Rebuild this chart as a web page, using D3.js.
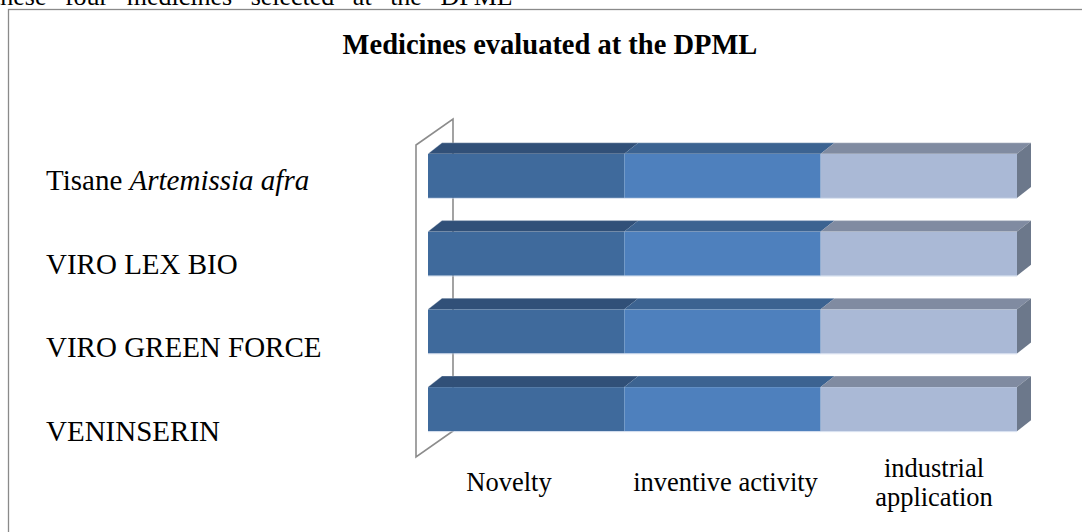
<!DOCTYPE html>
<html>
<head>
<meta charset="utf-8">
<script src="https://cdn.jsdelivr.net/npm/d3@7"></script>
<style>
  html, body { margin: 0; padding: 0; background: #ffffff; overflow: hidden; }
  svg { display: block; font-family: "Liberation Serif", "Times New Roman", serif; }
</style>
</head>
<body>
<script>
// ---- data ----
const categories = ["Tisane Artemissia afra", "VIRO LEX BIO", "VIRO GREEN FORCE", "VENINSERIN"];
const seriesNames = ["Novelty", "inventive activity", "industrial application"];
const novelty = [1, 1, 1, 1];
const inventiveActivity = [1, 1, 1, 1];
const industrialApplication = [1, 1, 1, 1];
const chartTitle = "Medicines evaluated at the DPML";
const precedingText = "these four medicines selected at the DPML";

// ---- styles ----
const frontColors = ["#3f6a9c", "#4e80bd", "#aab9d6"];
const topColors = ["#315078", "#3c6391", "#808ba1"];
const sideColor = "#6c788b";
const depthX = 14, depthY = -11;

const W = 1082, H = 532;
const svg = d3.select("body").append("svg").attr("width", W).attr("height", H);

// preceding paragraph, cut off at the top of the picture
svg.append("text")
  .attr("x", -7).attr("y", 5)
  .attr("font-size", 26)
  .attr("word-spacing", 12)
  .attr("fill", "#000")
  .text(precedingText);

// chart frame (extends beyond right/bottom edges)
svg.append("rect")
  .attr("x", 8.5).attr("y", 9.5)
  .attr("width", W + 20).attr("height", H + 20)
  .attr("fill", "#fff")
  .attr("stroke", "#8a8a8a").attr("stroke-width", 1.3);

// title
svg.append("text")
  .attr("x", 550).attr("y", 54)
  .attr("text-anchor", "middle")
  .attr("font-size", 28.5).attr("font-weight", "bold")
  .attr("fill", "#000")
  .text(chartTitle);

// ---- table & scales ----
const table = categories.map((c, i) => ({
  category: c,
  "Novelty": novelty[i],
  "inventive activity": inventiveActivity[i],
  "industrial application": industrialApplication[i]
}));
const stacked = d3.stack().keys(seriesNames)(table);
const total = d3.max(table, d => seriesNames.reduce((s, k) => s + d[k], 0));

const x = d3.scaleLinear().domain([0, total]).range([428, 1017]);
const y = d3.scaleBand().domain(categories).range([137, 448]).paddingInner(0.434).paddingOuter(0.217);
const yLabel = d3.scalePoint().domain(categories).range([190, 441]);
const xLabel = d3.scaleOrdinal().domain(seriesNames).range([509, 725.5, 934]);

// ---- side wall (3D value-axis wall) ----
const wallFrontX = x(0) - 12, wallDX = 37, wallDY = -26;
const wallTop = 145, wallBottom = 457;
const wallPath = d3.path();
wallPath.moveTo(wallFrontX, wallBottom);
wallPath.lineTo(wallFrontX, wallTop);
wallPath.lineTo(wallFrontX + wallDX, wallTop + wallDY);
wallPath.lineTo(wallFrontX + wallDX, wallBottom + wallDY);
wallPath.closePath();
svg.append("path")
  .attr("d", wallPath.toString())
  .attr("fill", "#fff")
  .attr("stroke", "#8c8c8c").attr("stroke-width", 1.6)
  .attr("stroke-linejoin", "miter");

// ---- 3D stacked bars ----
const gBars = svg.append("g");
categories.forEach((cat, ci) => {
  const y0 = y(cat), h = y.bandwidth();
  const g = gBars.append("g");
  stacked.forEach((layer, si) => {
    const d = layer[ci];
    const xa = x(d[0]), xb = x(d[1]);
    // front face
    g.append("rect")
      .attr("x", xa).attr("y", y0)
      .attr("width", xb - xa).attr("height", h)
      .attr("fill", frontColors[si]);
    // top face
    g.append("path")
      .attr("d", `M${xa},${y0}L${xb},${y0}L${xb + depthX},${y0 + depthY}L${xa + depthX},${y0 + depthY}Z`)
      .attr("fill", topColors[si]);
  });
  // right side face of the last segment
  const last = stacked[stacked.length - 1][ci];
  const xe = x(last[1]);
  g.append("path")
    .attr("d", `M${xe},${y0}L${xe + depthX},${y0 + depthY}L${xe + depthX},${y0 + h + depthY}L${xe},${y0 + h}Z`)
    .attr("fill", sideColor);
  // light edges
  g.append("path")
    .attr("d", `M${x(0)},${y0}L${x(0) + depthX},${y0 + depthY}L${xe + depthX},${y0 + depthY}`)
    .attr("fill", "none").attr("stroke", "rgba(255,255,255,0.25)").attr("stroke-width", 1);
  g.append("line")
    .attr("x1", x(0)).attr("x2", xe).attr("y1", y0 + h + 0.5).attr("y2", y0 + h + 0.5)
    .attr("stroke", "rgba(190,205,230,0.6)").attr("stroke-width", 1);
});

// ---- category labels ----
const gCat = svg.append("g");
categories.forEach(cat => {
  const t = gCat.append("text")
    .attr("x", 46).attr("y", yLabel(cat))
    .attr("font-size", 29).attr("fill", "#000");
  if (cat.startsWith("Tisane ")) {
    t.append("tspan").text("Tisane ");
    t.append("tspan").attr("font-style", "italic").text(cat.slice(7));
  } else {
    t.text(cat);
  }
});

// ---- series labels under the bars ----
const wrapMap = { "industrial application": ["industrial", "application"] };
const gSer = svg.append("g");
seriesNames.forEach(s => {
  const lines = wrapMap[s] || [s];
  const base = 491 - (lines.length - 1) * 29 / 2;
  lines.forEach((ln, li) => {
    gSer.append("text")
      .attr("x", xLabel(s)).attr("y", base + li * 29)
      .attr("text-anchor", "middle")
      .attr("font-size", 26.5).attr("fill", "#000")
      .text(ln);
  });
});
</script>
</body>
</html>
